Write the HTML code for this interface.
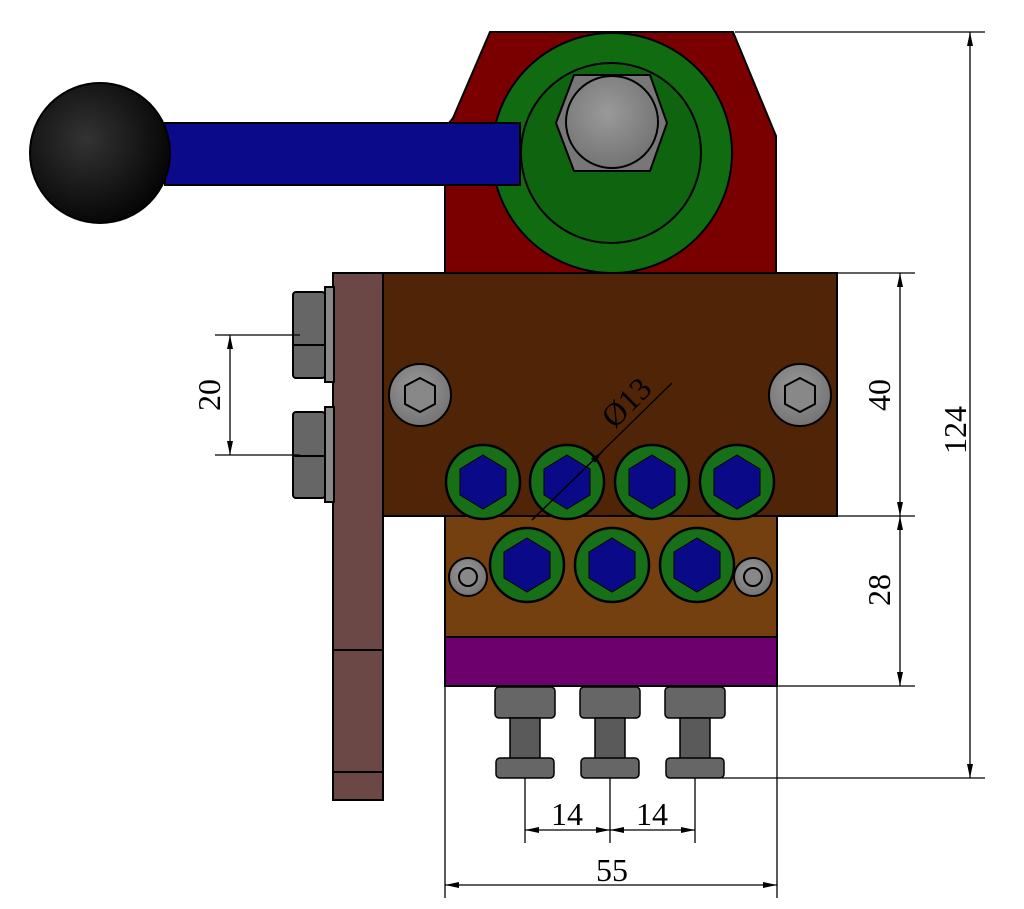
<!DOCTYPE html>
<html><head><meta charset="utf-8"><style>html,body{margin:0;padding:0;background:#fff}svg{display:block}</style></head><body>
<svg width="1024" height="909" viewBox="0 0 1024 909" xmlns="http://www.w3.org/2000/svg">
<defs>
<radialGradient id="ball" cx="0.4" cy="0.4" r="0.7"><stop offset="0" stop-color="#333"/><stop offset="1" stop-color="#000"/></radialGradient>
<radialGradient id="grey" cx="0.45" cy="0.4" r="0.7"><stop offset="0" stop-color="#9a9a9a"/><stop offset="1" stop-color="#6e6e6e"/></radialGradient>
<marker id="ar" markerWidth="14" markerHeight="8" refX="14" refY="4" orient="auto-start-reverse" markerUnits="userSpaceOnUse"><path d="M0,1 L14,4 L0,7 z" fill="#000"/></marker>
</defs>
<g stroke="#000" stroke-width="2">
<polygon points="490,32 733,32 776,136 776,273 445,273 445,128 453,118" fill="#7a0000"/>
<circle cx="612" cy="153" r="120" fill="#116b11"/>
<circle cx="611" cy="153" r="90" fill="#0f640f"/>
<polygon points="574,75 650,75 667,123 650,171 574,171 556,123" fill="#777"/>
<circle cx="612" cy="122" r="46" fill="url(#grey)"/>
<rect x="165" y="123" width="355" height="62" fill="#0a0a8a"/>
<circle cx="100" cy="153" r="70" fill="url(#ball)"/>
<rect x="333" y="273" width="50" height="527" fill="#6b4846"/>
<line x1="333" y1="650" x2="383" y2="650"/>
<line x1="333" y1="772" x2="383" y2="772"/>
<rect x="325" y="287" width="9" height="95" fill="#888"/>
<rect x="293" y="292" width="32" height="86" rx="3" fill="#666"/>
<line x1="293" y1="345" x2="325" y2="345"/>
<rect x="325" y="407" width="9" height="95" fill="#888"/>
<rect x="293" y="412" width="32" height="86" rx="3" fill="#666"/>
<line x1="293" y1="456" x2="325" y2="456"/>
<rect x="383" y="273" width="454" height="243" fill="#502406"/>
<rect x="445" y="516" width="332" height="121" fill="#74400f"/>
<rect x="445" y="637" width="332" height="49" fill="#6e006e"/>
<circle cx="420" cy="395" r="31" fill="url(#grey)"/>
<polygon points="420,378 435,386 435,404 420,412 405,404 405,386" fill="#888"/>
<circle cx="800" cy="395" r="31" fill="url(#grey)"/>
<polygon points="800,378 815,386 815,404 800,412 785,404 785,386" fill="#888"/>
<circle cx="468" cy="577" r="19" fill="url(#grey)"/>
<circle cx="468" cy="577" r="9" fill="#888"/>
<circle cx="753" cy="577" r="19" fill="url(#grey)"/>
<circle cx="753" cy="577" r="9" fill="#888"/>
</g>
<g stroke="#000" stroke-width="2.5">
<g transform="translate(483,482)"><circle r="37" fill="#177017"/><polygon points="0,-27 23,-13 23,13 0,27 -23,13 -23,-13" fill="#0a0a88" stroke-width="1"/></g>
<g transform="translate(567,482)"><circle r="37" fill="#177017"/><polygon points="0,-27 23,-13 23,13 0,27 -23,13 -23,-13" fill="#0a0a88" stroke-width="1"/></g>
<g transform="translate(652,482)"><circle r="37" fill="#177017"/><polygon points="0,-27 23,-13 23,13 0,27 -23,13 -23,-13" fill="#0a0a88" stroke-width="1"/></g>
<g transform="translate(737,482)"><circle r="37" fill="#177017"/><polygon points="0,-27 23,-13 23,13 0,27 -23,13 -23,-13" fill="#0a0a88" stroke-width="1"/></g>
<g transform="translate(527,565)"><circle r="37" fill="#177017"/><polygon points="0,-27 23,-13 23,13 0,27 -23,13 -23,-13" fill="#0a0a88" stroke-width="1"/></g>
<g transform="translate(612,565)"><circle r="37" fill="#177017"/><polygon points="0,-27 23,-13 23,13 0,27 -23,13 -23,-13" fill="#0a0a88" stroke-width="1"/></g>
<g transform="translate(697,565)"><circle r="37" fill="#177017"/><polygon points="0,-27 23,-13 23,13 0,27 -23,13 -23,-13" fill="#0a0a88" stroke-width="1"/></g>
</g>
<g stroke="#000" stroke-width="1.5">
<g transform="translate(525,0)"><rect x="-30" y="687" width="60" height="31" rx="4" fill="#666"/><rect x="-15" y="718" width="30" height="42" fill="#5a5a5a"/><rect x="-29" y="758" width="58" height="20" rx="4" fill="#666"/></g>
<g transform="translate(610,0)"><rect x="-30" y="687" width="60" height="31" rx="4" fill="#666"/><rect x="-15" y="718" width="30" height="42" fill="#5a5a5a"/><rect x="-29" y="758" width="58" height="20" rx="4" fill="#666"/></g>
<g transform="translate(695,0)"><rect x="-30" y="687" width="60" height="31" rx="4" fill="#666"/><rect x="-15" y="718" width="30" height="42" fill="#5a5a5a"/><rect x="-29" y="758" width="58" height="20" rx="4" fill="#666"/></g>
</g>
<g stroke="#000" stroke-width="1.3" fill="none">
<line x1="735" y1="32" x2="985" y2="32"/><line x1="722" y1="778" x2="985" y2="778"/>
<line x1="970" y1="32" x2="970" y2="778" marker-start="url(#ar)" marker-end="url(#ar)"/>
<line x1="837" y1="273" x2="915" y2="273"/><line x1="837" y1="516" x2="915" y2="516"/><line x1="777" y1="686" x2="915" y2="686"/>
<line x1="900" y1="273" x2="900" y2="516" marker-start="url(#ar)" marker-end="url(#ar)"/>
<line x1="900" y1="516" x2="900" y2="686" marker-start="url(#ar)" marker-end="url(#ar)"/>
<line x1="215" y1="335" x2="300" y2="335"/><line x1="215" y1="455" x2="300" y2="455"/>
<line x1="230" y1="335" x2="230" y2="455" marker-start="url(#ar)" marker-end="url(#ar)"/>
<line x1="525" y1="778" x2="525" y2="843"/><line x1="610" y1="778" x2="610" y2="843"/><line x1="695" y1="778" x2="695" y2="843"/>
<line x1="525" y1="830" x2="610" y2="830" marker-start="url(#ar)" marker-end="url(#ar)"/>
<line x1="610" y1="830" x2="695" y2="830" marker-start="url(#ar)" marker-end="url(#ar)"/>
<line x1="445" y1="686" x2="445" y2="898"/><line x1="777" y1="686" x2="777" y2="898"/>
<line x1="445" y1="885" x2="777" y2="885" marker-start="url(#ar)" marker-end="url(#ar)"/>
<line x1="532" y1="520" x2="672" y2="383"/>
<line x1="532" y1="520" x2="603" y2="451" marker-end="url(#ar)"/>
</g>
<g font-family="Liberation Serif, serif" font-size="32" fill="#000" text-anchor="middle">
<text transform="translate(966,430) rotate(-90)">124</text>
<text transform="translate(890,395) rotate(-90)">40</text>
<text transform="translate(890,590) rotate(-90)">28</text>
<text transform="translate(220,395) rotate(-90)">20</text>
<text x="567" y="825">14</text>
<text x="652" y="825">14</text>
<text x="612" y="881">55</text>
<text transform="translate(634,410) rotate(-45)">Ø13</text>
</g>
</svg>
</body></html>
